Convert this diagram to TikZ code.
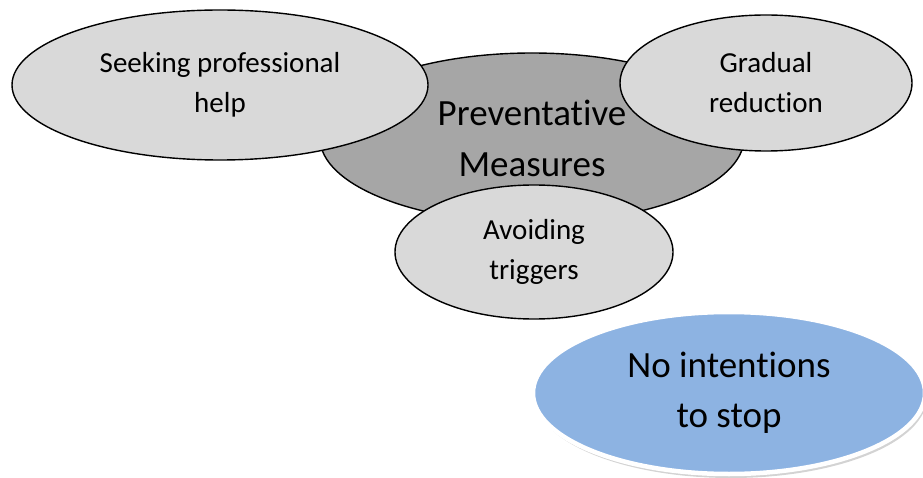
\documentclass[tikz,border=0pt]{standalone}
\usepackage{fontspec}
\setmainfont{Carlito}[Ligatures=NoCommon]
\usetikzlibrary{shapes.geometric,shadows}

\definecolor{hubgray}{HTML}{A6A6A6}
\definecolor{leafgray}{HTML}{D9D9D9}
\definecolor{stopblue}{HTML}{8DB3E2}

\begin{document}
\begin{tikzpicture}[
    x=1pt, y=-1pt,
    hub/.style={draw, ellipse, line width=1.4pt, fill=hubgray, inner sep=0pt,
      align=center, font=\fontsize{37}{51}\selectfont},
    measure/.style={draw, ellipse, line width=1.4pt, fill=leafgray, inner sep=0pt,
      align=center, font=\fontsize{29}{40}\selectfont},
    stance/.style={draw=white, ellipse, line width=4.5pt, fill=stopblue, inner sep=0pt,
      align=center, font=\fontsize{37}{50}\selectfont,
      drop shadow={shadow xshift=2pt, shadow yshift=-4pt, opacity=0.35}},
  ]
  \useasboundingbox (0,0) rectangle (923,478);

  % centre with the three measures laid over it
  \node[hub, minimum width=424pt, minimum height=170pt] (prev) at (532,138)
    {Preventative\\Measures};
  \node[measure, minimum width=416pt, minimum height=150pt] (help) at (220,85)
    {Seeking professional\\help};
  \node[measure, minimum width=292pt, minimum height=136pt] (grad) at (766,83)
    {Gradual\\reduction};
  \node[measure, minimum width=278pt, minimum height=134pt] (avoid) at (534,252)
    {Avoiding\\triggers};

  % the separate case, cut by the right border
  \node[stance, minimum width=392pt, minimum height=162pt] (nostop) at (729,393)
    {No intentions\\to stop};
\end{tikzpicture}
\end{document}
